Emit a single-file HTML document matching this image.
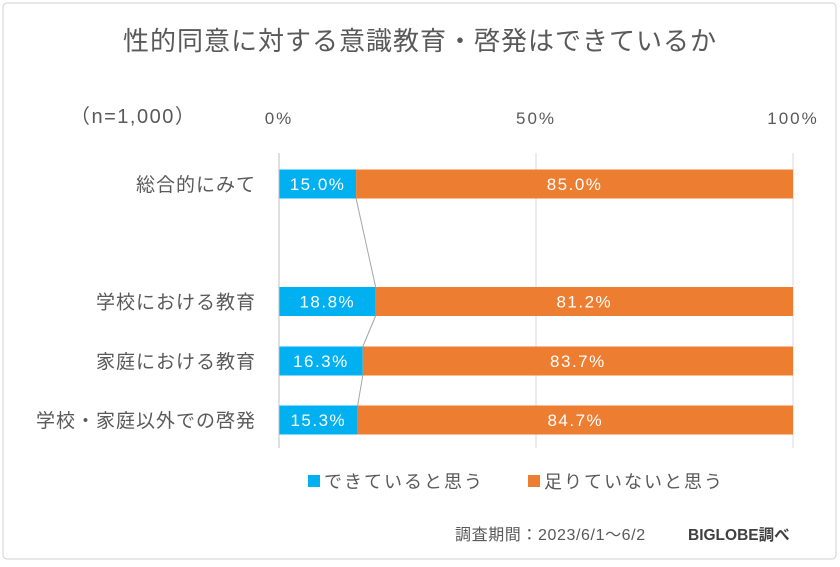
<!DOCTYPE html>
<html><head><meta charset="utf-8"><style>
body{margin:0;background:#fff;}
svg text{font-family:"Liberation Sans","Noto Sans CJK JP",sans-serif;}
</style></head><body>
<svg id="c" width="840" height="562" xmlns="http://www.w3.org/2000/svg">
<rect x="3" y="3" width="833" height="556" rx="4" fill="#fff" stroke="#d0d0d0"/>
<text x="420" y="50" text-anchor="middle" font-size="26" letter-spacing="1" fill="#595959">性的同意に対する意識教育・啓発はできているか</text>
<text x="70" y="123" font-size="20" letter-spacing="1.5" fill="#595959">（n=1,000）</text>
<g id="grid"></g>
<g id="bars"></g>
<g>
<rect x="308" y="475" width="12" height="12" fill="#00b0f0"/>
<text x="324" y="488" font-size="18" letter-spacing="2" fill="#595959">できていると思う</text>
<rect x="528" y="475" width="12" height="12" fill="#ed7d31"/>
<text x="544" y="488" font-size="18" letter-spacing="2" fill="#595959">足りていないと思う</text>
</g>
<text x="455" y="540" font-size="16" letter-spacing="0.6" fill="#595959">調査期間：2023/6/1～6/2</text>
<text x="688" y="540" font-size="15.5" font-weight="bold" fill="#404040">BIGLOBE調べ</text>
</svg>
<script>
const categories = ["総合的にみて","学校における教育","家庭における教育","学校・家庭以外での啓発"];
const yesValues = [15.0,18.8,16.3,15.3];
const noValues = [85.0,81.2,83.7,84.7];
const tickLabels = ["0%","50%","100%"];
const tickValues = [0,50,100];
const rowY = [184,301.5,361,420];
const NS="http://www.w3.org/2000/svg";
const x0=279,x1=793;
const xs=v=>x0+(x1-x0)*v/100;
const bh=29;
function mk(t,a,p){const e=document.createElementNS(NS,t);for(const k in a)e.setAttribute(k,a[k]);p.appendChild(e);return e;}
const g=document.getElementById('grid'),b=document.getElementById('bars');
tickValues.forEach((v,i)=>{
  const l=mk('line',{x1:xs(v),x2:xs(v),y1:153,y2:448,stroke:'#d9d9d9','stroke-width':1},g);
  
  
  const t=mk('text',{x:xs(v),y:124,'text-anchor':'middle','font-size':17,'letter-spacing':2,fill:'#595959'},g);
  t.textContent=tickLabels[i];
  
  
});
for(let i=0;i<categories.length-1;i++){
  const l=mk('line',{x1:xs(yesValues[i]),y1:rowY[i]+bh/2,x2:xs(yesValues[i+1]),y2:rowY[i+1]-bh/2,stroke:'#a6a6a6','stroke-width':1},b);
  
  
}
categories.forEach((c,i)=>{
  const y=rowY[i]-bh/2;
  const r1=mk('rect',{x:xs(0),y:y,width:xs(yesValues[i])-xs(0),height:bh,fill:'#00b0f0'},b);
  
  
  const r2=mk('rect',{x:xs(yesValues[i]),y:y,width:xs(yesValues[i]+noValues[i])-xs(yesValues[i]),height:bh,fill:'#ed7d31'},b);
  
  
  const t1=mk('text',{x:(xs(0)+xs(yesValues[i]))/2,y:rowY[i]+6,'text-anchor':'middle','font-size':17,'letter-spacing':1.5,fill:'#fff'},b);
  t1.textContent=yesValues[i].toFixed(1)+'%';
  
  
  const t2=mk('text',{x:(xs(yesValues[i])+xs(yesValues[i]+noValues[i]))/2,y:rowY[i]+6,'text-anchor':'middle','font-size':17,'letter-spacing':1.5,fill:'#fff'},b);
  t2.textContent=noValues[i].toFixed(1)+'%';
  
  
  const cl=mk('text',{x:256,y:rowY[i]+7,'text-anchor':'end','font-size':19,'letter-spacing':1,fill:'#595959'},b);
  cl.textContent=c;
  
  
});
const ax=mk('line',{x1:x0,x2:x0,y1:153,y2:448,stroke:'#bfbfbf','stroke-width':1},b);


</script>
</body></html>
